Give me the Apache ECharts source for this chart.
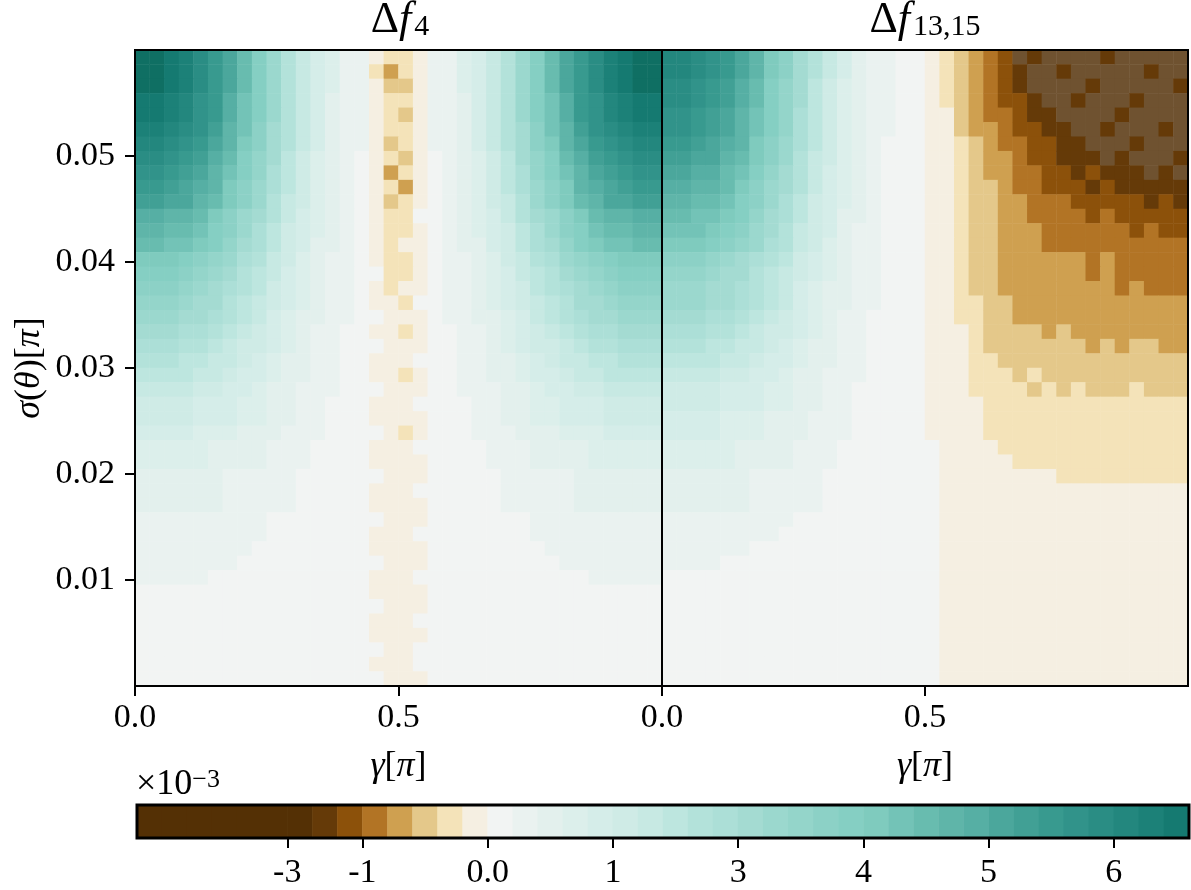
<!DOCTYPE html>
<html><head><meta charset="utf-8">
<script src="https://cdn.jsdelivr.net/npm/echarts@6/dist/echarts.min.js"></script>
<style>html,body{margin:0;padding:0;background:#fff}#c{width:1191px;height:890px}</style></head>
<body><div id="c"></div>
<script>
const gammaTicks=[0,0.5];
const sigmaTicks=[0.01,0.02,0.03,0.04,0.05];
const colorbarTickPositions=[6,9,14,19,24,29,34,39];
const colorbarTickLabels=['-3','-1','0.0','1','3','4','5','6'];
const colorbarLevels=[-14,-13,-12,-11,-10,-9,-8,-7,-6,-5,-4,-3,-2,-1,0,1,2,3,4,5,6,7,8,9,10,11,12,13,14,15,16,17,18,19,20,21,22,23,24,25,26,27];
const levelColors={'-15':'#6f5230','-14':'#543005','-13':'#543005','-12':'#543005','-11':'#543005','-10':'#543005','-9':'#543005','-8':'#543005','-7':'#653a08','-6':'#8c510a','-5':'#b27425','-4':'#cfa050','-3':'#e4c88a','-2':'#f4e3b9','-1':'#f5efe2','0':'#f2f4f3','1':'#eaf2f0','2':'#e3f0ed','3':'#dcefeb','4':'#d5ede9','5':'#cfebe6','6':'#c7e9e3','7':'#bde6df','8':'#b3e2da','9':'#acdfd7','10':'#a4dbd2','11':'#9bd8ce','12':'#94d5ca','13':'#8cd1c6','14':'#85cfc3','15':'#7fcbbe','16':'#73c3b7','17':'#68bcaf','18':'#5fb5a9','19':'#56afa4','20':'#4ba79c','21':'#41a095','22':'#389a8f','23':'#31938a','24':'#2a8d84','25':'#23877e','26':'#1c8178','27':'#157a71','28':'#0f6f63'};
const leftRows=[
[28,28,27,26,24,22,20,17,14,11,8,6,4,3,1,1,-1,-2,-2,-1,1,1,3,4,6,8,11,14,17,20,22,24,26,27,28,28],
[28,28,27,26,24,22,20,17,14,11,8,6,4,3,1,1,-2,-4,-2,-1,1,1,3,4,6,8,11,14,17,20,22,24,26,27,28,28],
[28,28,27,26,24,22,20,17,14,11,8,6,4,3,1,1,-1,-3,-3,-1,1,1,3,4,6,8,11,14,17,20,22,24,26,27,28,28],
[27,27,26,25,23,22,19,16,14,11,8,6,4,2,1,1,-1,-2,-2,-1,1,1,2,4,6,8,11,14,16,19,22,23,25,26,27,27],
[27,27,26,25,23,22,19,16,14,11,8,6,4,2,1,1,-1,-2,-3,-1,1,1,2,4,6,8,11,14,16,19,22,23,25,26,27,27],
[26,26,25,24,23,21,18,16,13,10,8,6,4,2,1,1,-1,-2,-2,-1,1,1,2,4,6,8,10,13,16,18,21,23,24,25,26,26],
[25,25,24,23,22,20,18,15,13,10,8,6,4,2,1,1,-1,-3,-2,-1,1,1,2,4,6,8,10,13,15,18,20,22,23,24,25,25],
[24,24,23,22,21,19,17,14,12,10,7,5,3,2,1,0,-1,-2,-3,-1,0,1,2,3,5,7,10,12,14,17,19,21,22,23,24,24],
[23,23,22,21,20,18,16,14,12,9,7,5,3,2,1,0,-1,-4,-2,-1,0,1,2,3,5,7,9,12,14,16,18,20,21,22,23,23],
[22,22,21,20,19,18,15,13,11,9,7,5,3,2,1,0,-1,-2,-4,-1,0,1,2,3,5,7,9,11,13,15,18,19,20,21,22,22],
[21,21,20,20,18,17,15,13,11,8,6,5,3,2,1,0,-1,-3,-2,-1,0,1,2,3,5,6,8,11,13,15,17,18,20,20,21,21],
[19,19,18,18,17,15,13,11,10,8,6,4,3,2,1,0,-1,-2,-2,0,0,1,2,3,4,6,8,10,11,13,15,17,18,18,19,19],
[18,18,17,17,16,14,13,11,9,7,5,4,3,2,1,0,-1,-2,-2,-1,0,1,2,3,4,5,7,9,11,13,14,16,17,17,18,18],
[17,17,16,16,15,14,12,10,9,7,5,4,2,2,1,0,-1,-2,-1,-1,0,1,2,2,4,5,7,9,10,12,14,15,16,16,17,17],
[15,15,15,14,13,12,11,9,8,6,5,3,2,1,1,0,-1,-2,-2,-1,0,1,1,2,3,5,6,8,9,11,12,13,14,15,15,15],
[14,14,14,13,12,11,10,8,7,6,4,3,2,1,1,0,0,-2,-2,-1,0,1,1,2,3,4,6,7,8,10,11,12,13,14,14,14],
[13,13,13,12,11,10,9,8,7,5,4,3,2,1,1,0,-1,-2,-1,-1,0,1,1,2,3,4,5,7,8,9,10,11,12,13,13,13],
[12,12,12,11,10,10,8,7,6,5,4,3,2,1,1,0,-1,-1,-2,0,0,1,1,2,3,4,5,6,7,8,10,10,11,12,12,12],
[11,11,11,10,10,9,8,7,6,4,3,2,2,1,1,0,0,-1,-1,-1,0,1,1,2,2,3,4,6,7,8,9,10,10,11,11,11],
[10,10,10,9,9,8,7,6,5,4,3,2,1,1,0,0,-1,-1,-2,-1,0,0,1,1,2,3,4,5,6,7,8,9,9,10,10,10],
[9,9,9,8,8,7,6,5,5,4,3,2,1,1,0,0,0,-1,-1,-1,0,0,1,1,2,3,4,5,5,6,7,8,8,9,9,9],
[8,8,8,7,7,6,6,5,4,3,2,2,1,1,0,0,-1,-1,-1,0,0,0,1,1,2,2,3,4,5,6,6,7,7,8,8,8],
[7,7,7,7,6,6,5,4,4,3,2,2,1,1,0,0,-1,-1,-2,-1,0,0,1,1,2,2,3,4,4,5,6,6,7,7,7,7],
[6,6,6,6,5,5,4,4,3,2,2,1,1,1,0,0,0,-1,-1,-1,0,0,1,1,1,2,2,3,4,4,5,5,6,6,6,6],
[5,5,5,5,4,4,4,3,3,2,2,1,1,0,0,0,-1,-1,-1,0,0,0,0,1,1,2,2,3,3,4,4,4,5,5,5,5],
[5,5,5,5,4,4,4,3,3,2,2,1,1,0,0,0,-1,-1,-1,-1,0,0,0,1,1,2,2,3,3,4,4,4,5,5,5,5],
[4,4,4,4,3,3,3,2,2,2,1,1,1,0,0,0,0,-1,-2,-1,0,0,0,1,1,1,2,2,2,3,3,3,4,4,4,4],
[3,3,3,3,3,2,2,2,2,1,1,1,0,0,0,0,-1,-1,-1,0,0,0,0,0,1,1,1,2,2,2,2,3,3,3,3,3],
[3,3,3,3,3,2,2,2,2,1,1,1,0,0,0,0,-1,-1,-1,-1,0,0,0,0,1,1,1,2,2,2,2,3,3,3,3,3],
[2,2,2,2,2,2,1,1,1,1,1,0,0,0,0,0,0,-1,-1,-1,0,0,0,0,0,1,1,1,1,1,2,2,2,2,2,2],
[2,2,2,2,2,2,1,1,1,1,1,0,0,0,0,0,-1,-1,-1,0,0,0,0,0,0,1,1,1,1,1,2,2,2,2,2,2],
[2,2,2,2,2,2,1,1,1,1,1,0,0,0,0,0,-1,-1,-1,-1,0,0,0,0,0,1,1,1,1,1,2,2,2,2,2,2],
[1,1,1,1,1,1,1,1,1,0,0,0,0,0,0,0,0,-1,-1,-1,0,0,0,0,0,0,0,1,1,1,1,1,1,1,1,1],
[1,1,1,1,1,1,1,1,1,0,0,0,0,0,0,0,-1,-1,-1,0,0,0,0,0,0,0,0,1,1,1,1,1,1,1,1,1],
[1,1,1,1,1,1,1,1,0,0,0,0,0,0,0,0,-1,-1,-1,-1,0,0,0,0,0,0,0,0,1,1,1,1,1,1,1,1],
[1,1,1,1,1,1,1,0,0,0,0,0,0,0,0,0,0,-1,-1,-1,0,0,0,0,0,0,0,0,0,1,1,1,1,1,1,1],
[1,1,1,1,1,0,0,0,0,0,0,0,0,0,0,0,-1,-1,-1,0,0,0,0,0,0,0,0,0,0,0,0,1,1,1,1,1],
[0,0,0,0,0,0,0,0,0,0,0,0,0,0,0,0,-1,-1,-1,-1,0,0,0,0,0,0,0,0,0,0,0,0,0,0,0,0],
[0,0,0,0,0,0,0,0,0,0,0,0,0,0,0,0,0,-1,-1,-1,0,0,0,0,0,0,0,0,0,0,0,0,0,0,0,0],
[0,0,0,0,0,0,0,0,0,0,0,0,0,0,0,0,-1,-1,-1,0,0,0,0,0,0,0,0,0,0,0,0,0,0,0,0,0],
[0,0,0,0,0,0,0,0,0,0,0,0,0,0,0,0,-1,-1,-1,-1,0,0,0,0,0,0,0,0,0,0,0,0,0,0,0,0],
[0,0,0,0,0,0,0,0,0,0,0,0,0,0,0,0,0,-1,-1,0,0,0,0,0,0,0,0,0,0,0,0,0,0,0,0,0],
[0,0,0,0,0,0,0,0,0,0,0,0,0,0,0,0,-1,-1,-1,0,0,0,0,0,0,0,0,0,0,0,0,0,0,0,0,0],
[0,0,0,0,0,0,0,0,0,0,0,0,0,0,0,0,0,-1,-1,-1,0,0,0,0,0,0,0,0,0,0,0,0,0,0,0,0]
];
const rightRows=[
[25,25,24,23,22,20,18,15,13,10,8,6,4,2,1,1,0,0,-1,-2,-3,-4,-5,-6,-15,-7,-15,-15,-15,-15,-7,-15,-15,-15,-15,-15],
[25,25,24,23,22,20,18,15,13,10,8,6,4,2,1,1,0,0,-1,-2,-3,-4,-5,-6,-7,-15,-15,-7,-15,-15,-15,-15,-15,-7,-15,-15],
[24,24,23,22,21,19,17,14,12,10,7,5,3,2,1,1,0,0,-1,-2,-3,-4,-5,-6,-7,-15,-15,-15,-15,-7,-15,-15,-15,-15,-15,-7],
[24,24,23,22,21,19,17,14,12,10,7,5,3,2,1,1,0,0,-1,-2,-3,-4,-5,-6,-6,-7,-15,-15,-7,-15,-15,-15,-7,-15,-15,-15],
[23,23,22,21,20,18,16,14,12,9,7,5,3,2,1,1,0,0,-1,-1,-3,-4,-5,-5,-6,-7,-7,-15,-15,-15,-15,-7,-15,-15,-15,-15],
[23,23,22,21,20,18,16,14,12,9,7,5,3,2,1,1,0,0,-1,-1,-3,-4,-4,-5,-6,-6,-7,-7,-15,-15,-7,-15,-15,-15,-7,-15],
[22,22,21,20,19,18,15,13,11,9,7,5,3,2,1,0,0,0,-1,-1,-2,-3,-4,-5,-5,-6,-6,-7,-7,-15,-15,-15,-7,-15,-15,-15],
[21,21,20,20,18,17,15,13,11,8,6,5,3,2,1,0,0,0,-1,-1,-2,-3,-4,-4,-5,-6,-6,-7,-7,-7,-15,-7,-15,-15,-15,-7],
[20,20,19,19,17,16,14,12,10,8,6,4,3,2,1,0,0,0,-1,-1,-2,-3,-4,-4,-5,-5,-6,-6,-7,-6,-7,-7,-7,-15,-7,-15],
[19,19,18,18,17,15,13,11,10,8,6,4,3,2,1,0,0,0,-1,-1,-2,-3,-3,-4,-5,-5,-6,-6,-6,-7,-6,-7,-7,-7,-7,-7],
[18,18,17,17,16,14,13,11,9,7,5,4,3,2,1,0,0,0,-1,-1,-2,-3,-3,-4,-4,-5,-5,-5,-6,-6,-6,-6,-6,-7,-6,-7],
[17,17,16,16,15,14,12,10,9,7,5,4,2,2,1,0,0,0,-1,-1,-2,-3,-3,-4,-4,-5,-5,-5,-5,-6,-5,-6,-6,-6,-6,-6],
[16,16,16,15,14,13,11,10,8,6,5,4,2,1,1,0,0,0,-1,-1,-2,-3,-3,-4,-4,-4,-5,-5,-5,-5,-5,-5,-6,-5,-6,-6],
[15,15,15,14,13,12,11,9,8,6,5,3,2,1,1,0,0,0,-1,-1,-2,-3,-3,-4,-4,-4,-5,-5,-5,-5,-5,-5,-5,-5,-5,-5],
[13,13,13,12,11,10,9,8,7,5,4,3,2,1,1,0,0,0,-1,-1,-2,-3,-3,-4,-4,-4,-4,-4,-4,-5,-4,-5,-5,-5,-5,-5],
[12,12,12,11,10,10,8,7,6,5,4,3,2,1,1,0,0,0,-1,-1,-2,-3,-3,-4,-4,-4,-4,-4,-4,-5,-4,-5,-5,-5,-5,-5],
[11,11,11,10,10,9,8,7,6,4,3,2,2,1,1,0,0,0,-1,-1,-2,-3,-3,-4,-4,-4,-4,-4,-4,-4,-4,-5,-4,-5,-5,-5],
[11,11,11,10,10,9,8,7,6,4,3,2,2,1,1,0,0,0,-1,-1,-2,-2,-3,-3,-4,-4,-4,-4,-4,-4,-4,-4,-4,-4,-4,-4],
[10,10,10,9,9,8,7,6,5,4,3,2,1,1,0,0,0,0,-1,-1,-2,-2,-3,-3,-4,-4,-4,-4,-4,-4,-4,-4,-4,-4,-4,-4],
[9,9,9,8,8,7,6,5,5,4,3,2,1,1,0,0,0,0,-1,-1,-1,-2,-3,-3,-3,-3,-4,-3,-4,-4,-4,-4,-4,-4,-4,-4],
[8,8,8,7,7,6,6,5,4,3,2,2,1,1,0,0,0,0,-1,-1,-1,-2,-3,-3,-3,-3,-3,-3,-3,-4,-3,-4,-3,-3,-4,-4],
[7,7,7,7,6,6,5,4,4,3,2,2,1,1,0,0,0,0,-1,-1,-1,-2,-2,-3,-3,-3,-3,-3,-3,-3,-3,-3,-3,-3,-3,-3],
[6,6,6,6,5,5,4,4,3,2,2,1,1,1,0,0,0,0,-1,-1,-1,-2,-2,-2,-3,-2,-3,-3,-3,-3,-3,-3,-3,-3,-3,-3],
[5,5,5,5,4,4,4,3,3,2,2,1,1,0,0,0,0,0,-1,-1,-1,-2,-2,-2,-2,-3,-2,-3,-2,-3,-3,-3,-2,-3,-3,-3],
[5,5,5,5,4,4,4,3,3,2,2,1,1,0,0,0,0,0,-1,-1,-1,-1,-2,-2,-2,-2,-2,-2,-2,-2,-2,-2,-2,-2,-2,-2],
[4,4,4,4,3,3,3,2,2,2,1,1,1,0,0,0,0,0,-1,-1,-1,-1,-2,-2,-2,-2,-2,-2,-2,-2,-2,-2,-2,-2,-2,-2],
[4,4,4,4,3,3,3,2,2,2,1,1,1,0,0,0,0,0,-1,-1,-1,-1,-2,-2,-2,-2,-2,-2,-2,-2,-2,-2,-2,-2,-2,-2],
[3,3,3,3,3,2,2,2,2,1,1,1,0,0,0,0,0,0,0,-1,-1,-1,-1,-2,-2,-2,-2,-2,-2,-2,-2,-2,-2,-2,-2,-2],
[3,3,3,3,3,2,2,2,2,1,1,1,0,0,0,0,0,0,0,-1,-1,-1,-1,-1,-2,-2,-2,-2,-2,-2,-2,-2,-2,-2,-2,-2],
[2,2,2,2,2,2,1,1,1,1,1,0,0,0,0,0,0,0,0,-1,-1,-1,-1,-1,-1,-1,-1,-2,-2,-2,-2,-2,-2,-2,-2,-2],
[2,2,2,2,2,2,1,1,1,1,1,0,0,0,0,0,0,0,0,-1,-1,-1,-1,-1,-1,-1,-1,-1,-1,-1,-1,-1,-1,-1,-1,-1],
[2,2,2,2,2,2,1,1,1,1,1,0,0,0,0,0,0,0,0,-1,-1,-1,-1,-1,-1,-1,-1,-1,-1,-1,-1,-1,-1,-1,-1,-1],
[1,1,1,1,1,1,1,1,1,0,0,0,0,0,0,0,0,0,0,-1,-1,-1,-1,-1,-1,-1,-1,-1,-1,-1,-1,-1,-1,-1,-1,-1],
[1,1,1,1,1,1,1,1,0,0,0,0,0,0,0,0,0,0,0,-1,-1,-1,-1,-1,-1,-1,-1,-1,-1,-1,-1,-1,-1,-1,-1,-1],
[1,1,1,1,1,1,0,0,0,0,0,0,0,0,0,0,0,0,0,-1,-1,-1,-1,-1,-1,-1,-1,-1,-1,-1,-1,-1,-1,-1,-1,-1],
[1,1,1,1,0,0,0,0,0,0,0,0,0,0,0,0,0,0,0,-1,-1,-1,-1,-1,-1,-1,-1,-1,-1,-1,-1,-1,-1,-1,-1,-1],
[0,0,0,0,0,0,0,0,0,0,0,0,0,0,0,0,0,0,0,-1,-1,-1,-1,-1,-1,-1,-1,-1,-1,-1,-1,-1,-1,-1,-1,-1],
[0,0,0,0,0,0,0,0,0,0,0,0,0,0,0,0,0,0,0,-1,-1,-1,-1,-1,-1,-1,-1,-1,-1,-1,-1,-1,-1,-1,-1,-1],
[0,0,0,0,0,0,0,0,0,0,0,0,0,0,0,0,0,0,0,-1,-1,-1,-1,-1,-1,-1,-1,-1,-1,-1,-1,-1,-1,-1,-1,-1],
[0,0,0,0,0,0,0,0,0,0,0,0,0,0,0,0,0,0,0,-1,-1,-1,-1,-1,-1,-1,-1,-1,-1,-1,-1,-1,-1,-1,-1,-1],
[0,0,0,0,0,0,0,0,0,0,0,0,0,0,0,0,0,0,0,-1,-1,-1,-1,-1,-1,-1,-1,-1,-1,-1,-1,-1,-1,-1,-1,-1],
[0,0,0,0,0,0,0,0,0,0,0,0,0,0,0,0,0,0,0,-1,-1,-1,-1,-1,-1,-1,-1,-1,-1,-1,-1,-1,-1,-1,-1,-1],
[0,0,0,0,0,0,0,0,0,0,0,0,0,0,0,0,0,0,0,-1,-1,-1,-1,-1,-1,-1,-1,-1,-1,-1,-1,-1,-1,-1,-1,-1],
[0,0,0,0,0,0,0,0,0,0,0,0,0,0,0,0,0,0,0,-1,-1,-1,-1,-1,-1,-1,-1,-1,-1,-1,-1,-1,-1,-1,-1,-1]
];

const FONT='Liberation Serif';
const mathRich={i:{fontFamily:FONT,fontStyle:'italic',fontWeight:'normal',fontSize:36,color:'#000'},r:{fontFamily:FONT,fontWeight:'normal',fontSize:36,color:'#000'}};
const titleRich={d:{fontFamily:FONT,fontWeight:'normal',fontSize:44,color:'#000'},f:{fontFamily:FONT,fontStyle:'italic',fontWeight:'normal',fontSize:44,color:'#000'},s:{fontFamily:FONT,fontWeight:'normal',fontSize:30,color:'#000',verticalAlign:'bottom',padding:[10,0,0,3]}};
const toCells=rows=>rows.flatMap((row,r)=>row.map((v,c)=>[c,r,v]));
const idx=n=>Array.from({length:n},(_,i)=>String(i));
const nCols=leftRows[0].length,nRows=leftRows.length;
const tickStyle={show:true,length:10,lineStyle:{color:'#000',width:2}};
const lineStyle={show:true,lineStyle:{color:'#000',width:2}};
const labelBase={color:'#000',fontFamily:FONT,fontSize:34};
const gammaAxis=g=>({type:'value',gridIndex:g,min:0,max:1,position:'bottom',splitLine:{show:false},axisLine:{...lineStyle,onZero:false},
  axisTick:{...tickStyle,customValues:gammaTicks},axisLabel:{...labelBase,margin:15,customValues:gammaTicks,formatter:v=>v.toFixed(1)},
  name:'{i|γ}{r|[}{i|π}{r|]}',nameLocation:'middle',nameGap:63,nameTextStyle:{rich:mathRich}});
const hiddenCat=(g,n,inv)=>({type:'category',gridIndex:g,data:idx(n),show:false,inverse:!!inv});
const option={
  animation:false,backgroundColor:'#fff',
  title:[
    {text:'{d|Δ}{f|f}{s|4}',left:400,top:-2,padding:0,textAlign:'center',textStyle:{fontWeight:'normal',rich:titleRich}},
    {text:'{d|Δ}{f|f}{s|13,15}',left:925,top:-2,padding:0,textAlign:'center',textStyle:{fontWeight:'normal',rich:titleRich}},
    {text:'{r|×10}{u|−3}',left:131,top:762,textStyle:{fontWeight:'normal',rich:{r:{fontFamily:FONT,fontWeight:'normal',fontSize:36,color:'#000',verticalAlign:'bottom'},u:{fontFamily:FONT,fontWeight:'normal',fontSize:26,color:'#000',verticalAlign:'top'}}}}
  ],
  grid:[
    {left:135,top:50,width:527,height:636,show:true,borderColor:'#000',borderWidth:2,backgroundColor:'transparent',z:10},
    {left:662,top:50,width:526,height:636,show:true,borderColor:'#000',borderWidth:2,backgroundColor:'transparent',z:10},
    {left:137,top:805,width:1052,height:35,show:true,borderColor:'#000',borderWidth:3,backgroundColor:'transparent',z:10}
  ],
  xAxis:[gammaAxis(0),gammaAxis(1),
    {type:'value',gridIndex:2,min:0,max:colorbarLevels.length,splitLine:{show:false},axisLine:{show:false},
     axisTick:{...tickStyle,customValues:colorbarTickPositions},
     axisLabel:{...labelBase,margin:18,customValues:colorbarTickPositions,formatter:v=>colorbarTickLabels[colorbarTickPositions.indexOf(v)]}},
    hiddenCat(0,nCols),hiddenCat(1,nCols),hiddenCat(2,colorbarLevels.length)],
  yAxis:[
    {type:'value',gridIndex:0,min:0,max:0.06,splitLine:{show:false},axisLine:lineStyle,
     axisTick:{...tickStyle,customValues:sigmaTicks},axisLabel:{...labelBase,margin:20,customValues:sigmaTicks,formatter:v=>v.toFixed(2)},
     name:'{i|σ}{r|(}{i|θ}{r|)[}{i|π}{r|]}',nameLocation:'middle',nameGap:87,nameRotate:90,nameTextStyle:{rich:mathRich}},
    hiddenCat(0,nRows,true),hiddenCat(1,nRows,true),hiddenCat(2,1)],
  visualMap:{show:false,type:'piecewise',seriesIndex:[0,1,2],dimension:2,
    pieces:Object.keys(levelColors).map(k=>({value:+k,color:levelColors[k]}))},
  series:[
    {type:'heatmap',name:'Δf4',xAxisIndex:3,yAxisIndex:1,data:toCells(leftRows),progressive:0,z:2},
    {type:'heatmap',name:'Δf13,15',xAxisIndex:4,yAxisIndex:2,data:toCells(rightRows),progressive:0,z:2},
    {type:'heatmap',name:'colorbar',xAxisIndex:5,yAxisIndex:3,data:colorbarLevels.map((l,i)=>[i,0,l]),progressive:0,z:2}
  ]
};
echarts.init(document.getElementById('c'),null,{renderer:'canvas'}).setOption(option);
</script></body></html>
